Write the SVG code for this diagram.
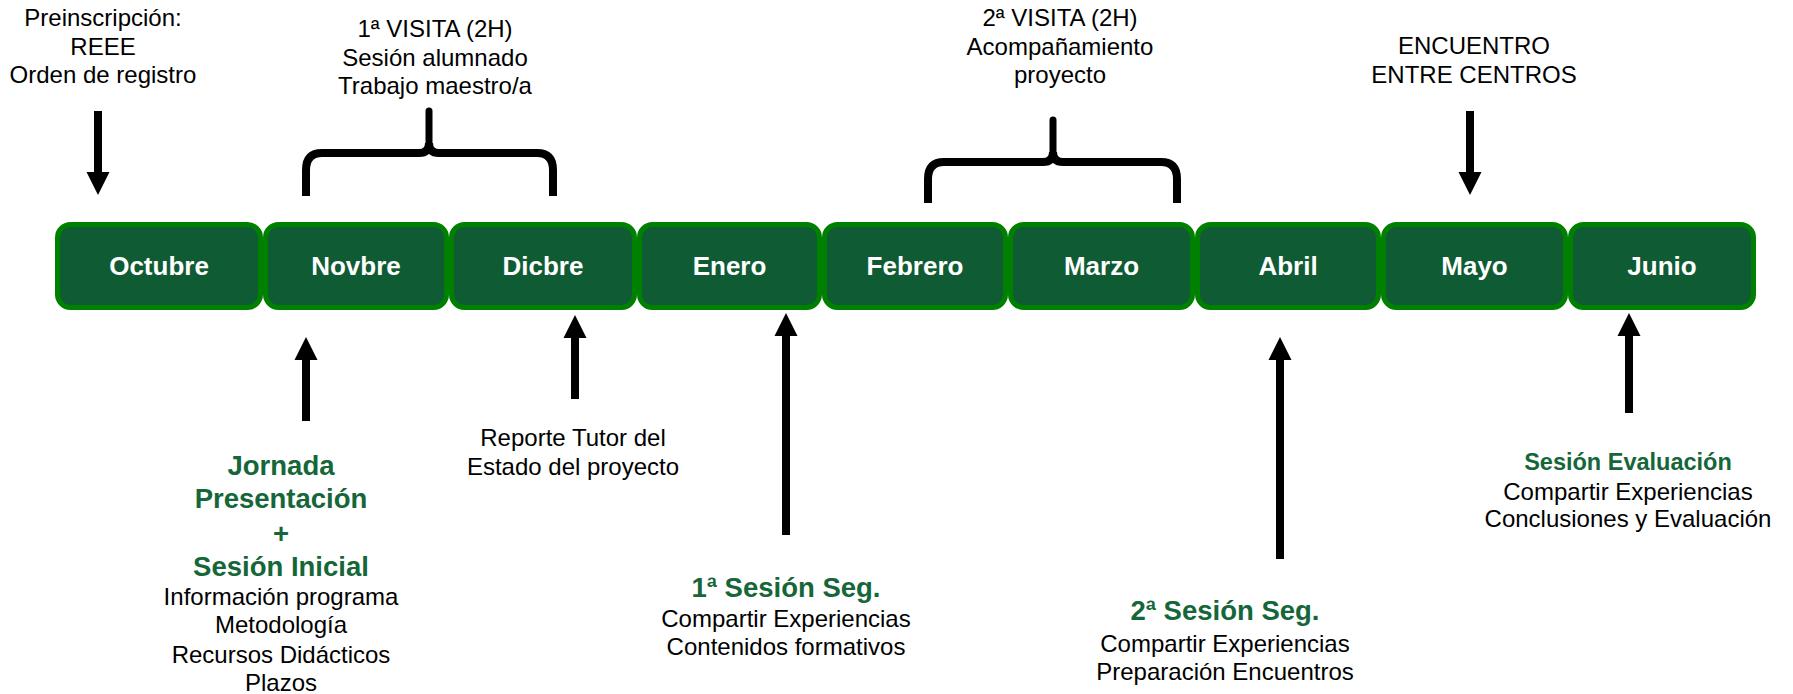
<svg xmlns="http://www.w3.org/2000/svg" width="1793" height="694" viewBox="0 0 1793 694">
<defs>
<style>
.box{fill:#0F5B34;stroke:#008000;stroke-width:5}
.mon{font-family:"Liberation Sans",Arial,sans-serif;font-weight:bold;font-size:26px;fill:#FFFFFF;text-anchor:middle}
.t{font-family:"Liberation Sans",Arial,sans-serif;font-size:24px;fill:#000000;text-anchor:middle}
.g{font-family:"Liberation Sans",Arial,sans-serif;font-weight:bold;font-size:27.5px;fill:#156638;text-anchor:middle}
.gs{font-family:"Liberation Sans",Arial,sans-serif;font-weight:bold;font-size:23.5px;fill:#156638;text-anchor:middle}
.arr{stroke:#000000;stroke-width:8;fill:none;marker-end:url(#head)}
.brace{stroke:#000000;stroke-width:8;fill:none;stroke-linejoin:round}
.stem{stroke:#000000;stroke-width:7;fill:none;stroke-linecap:round}
</style>
<marker id="head" markerUnits="userSpaceOnUse" markerWidth="24" markerHeight="24" viewBox="0 -12 24 24" refX="0" refY="0" orient="auto">
<path d="M0,-11.5 L23,0 L0,11.5 Z" fill="#000000"/>
</marker>
</defs>
<rect width="1793" height="694" fill="#FFFFFF"/>

<g id="connectors">
<line class="arr" x1="98" y1="111" x2="98" y2="172"/>
<line class="arr" x1="1470" y1="111" x2="1470" y2="172"/>
<line class="arr" x1="306" y1="421" x2="306" y2="360"/>
<line class="arr" x1="575" y1="399" x2="575" y2="338"/>
<line class="arr" x1="786" y1="535" x2="786" y2="336"/>
<line class="arr" x1="1280" y1="559" x2="1280" y2="360"/>
<line class="arr" x1="1629" y1="413" x2="1629" y2="336"/>
<path class="brace" d="M306,196 V170 Q306,153 322,153 H419 Q429,153 429,143 M429,143 Q429,153 439,153 H537 Q553,153 553,170 V196"/>
<path class="stem" d="M429,145 V111"/>
<path class="brace" d="M928,203 V179 Q928,162 944,162 H1043 Q1053,162 1053,152 M1053,152 Q1053,162 1063,162 H1161 Q1177,162 1177,179 V203"/>
<path class="stem" d="M1053,154 V120"/>
</g>

<g id="month-octubre"><rect class="box" x="57.5" y="224.5" width="203" height="83" rx="13"/><text class="mon" x="159" y="275">Octubre</text></g>
<g id="month-novbre"><rect class="box" x="265.5" y="224.5" width="181" height="83" rx="13"/><text class="mon" x="356" y="275">Novbre</text></g>
<g id="month-dicbre"><rect class="box" x="451.5" y="224.5" width="183" height="83" rx="13"/><text class="mon" x="543" y="275">Dicbre</text></g>
<g id="month-enero"><rect class="box" x="639.5" y="224.5" width="180" height="83" rx="13"/><text class="mon" x="729.5" y="275">Enero</text></g>
<g id="month-febrero"><rect class="box" x="824.5" y="224.5" width="181" height="83" rx="13"/><text class="mon" x="915" y="275">Febrero</text></g>
<g id="month-marzo"><rect class="box" x="1010.5" y="224.5" width="182" height="83" rx="13"/><text class="mon" x="1101.5" y="275">Marzo</text></g>
<g id="month-abril"><rect class="box" x="1197.5" y="224.5" width="181" height="83" rx="13"/><text class="mon" x="1288" y="275">Abril</text></g>
<g id="month-mayo"><rect class="box" x="1383.5" y="224.5" width="182" height="83" rx="13"/><text class="mon" x="1474.5" y="275">Mayo</text></g>
<g id="month-junio"><rect class="box" x="1570.5" y="224.5" width="183" height="83" rx="13"/><text class="mon" x="1662" y="275">Junio</text></g>

<g id="label-preinscripcion">
<text class="t" x="103" y="26">Preinscripción:</text>
<text class="t" x="103" y="55">REEE</text>
<text class="t" x="103" y="83">Orden de registro</text>
</g>
<g id="label-visita1">
<text class="t" x="435" y="37">1ª VISITA (2H)</text>
<text class="t" x="435" y="66">Sesión alumnado</text>
<text class="t" x="435" y="94">Trabajo maestro/a</text>
</g>
<g id="label-visita2">
<text class="t" x="1060" y="26">2ª VISITA (2H)</text>
<text class="t" x="1060" y="55">Acompañamiento</text>
<text class="t" x="1060" y="83">proyecto</text>
</g>
<g id="label-encuentro">
<text class="t" x="1474" y="54">ENCUENTRO</text>
<text class="t" x="1474" y="83">ENTRE CENTROS</text>
</g>
<g id="label-jornada">
<text class="g" x="281" y="475">Jornada</text>
<text class="g" x="281" y="508">Presentación</text>
<text class="g" x="281" y="543">+</text>
<text class="g" x="281" y="576">Sesión Inicial</text>
<text class="t" x="281" y="605">Información programa</text>
<text class="t" x="281" y="633">Metodología</text>
<text class="t" x="281" y="663">Recursos Didácticos</text>
<text class="t" x="281" y="691">Plazos</text>
</g>
<g id="label-reporte">
<text class="t" x="573" y="446">Reporte Tutor del</text>
<text class="t" x="573" y="475">Estado del proyecto</text>
</g>
<g id="label-sesion1">
<text class="g" x="786" y="597">1ª Sesión Seg.</text>
<text class="t" x="786" y="627">Compartir Experiencias</text>
<text class="t" x="786" y="655">Contenidos formativos</text>
</g>
<g id="label-sesion2">
<text class="g" x="1225" y="620">2ª Sesión Seg.</text>
<text class="t" x="1225" y="652">Compartir Experiencias</text>
<text class="t" x="1225" y="680">Preparación Encuentros</text>
</g>
<g id="label-evaluacion">
<text class="gs" x="1628" y="470">Sesión Evaluación</text>
<text class="t" x="1628" y="500">Compartir Experiencias</text>
<text class="t" x="1628" y="527">Conclusiones y Evaluación</text>
</g>
</svg>
